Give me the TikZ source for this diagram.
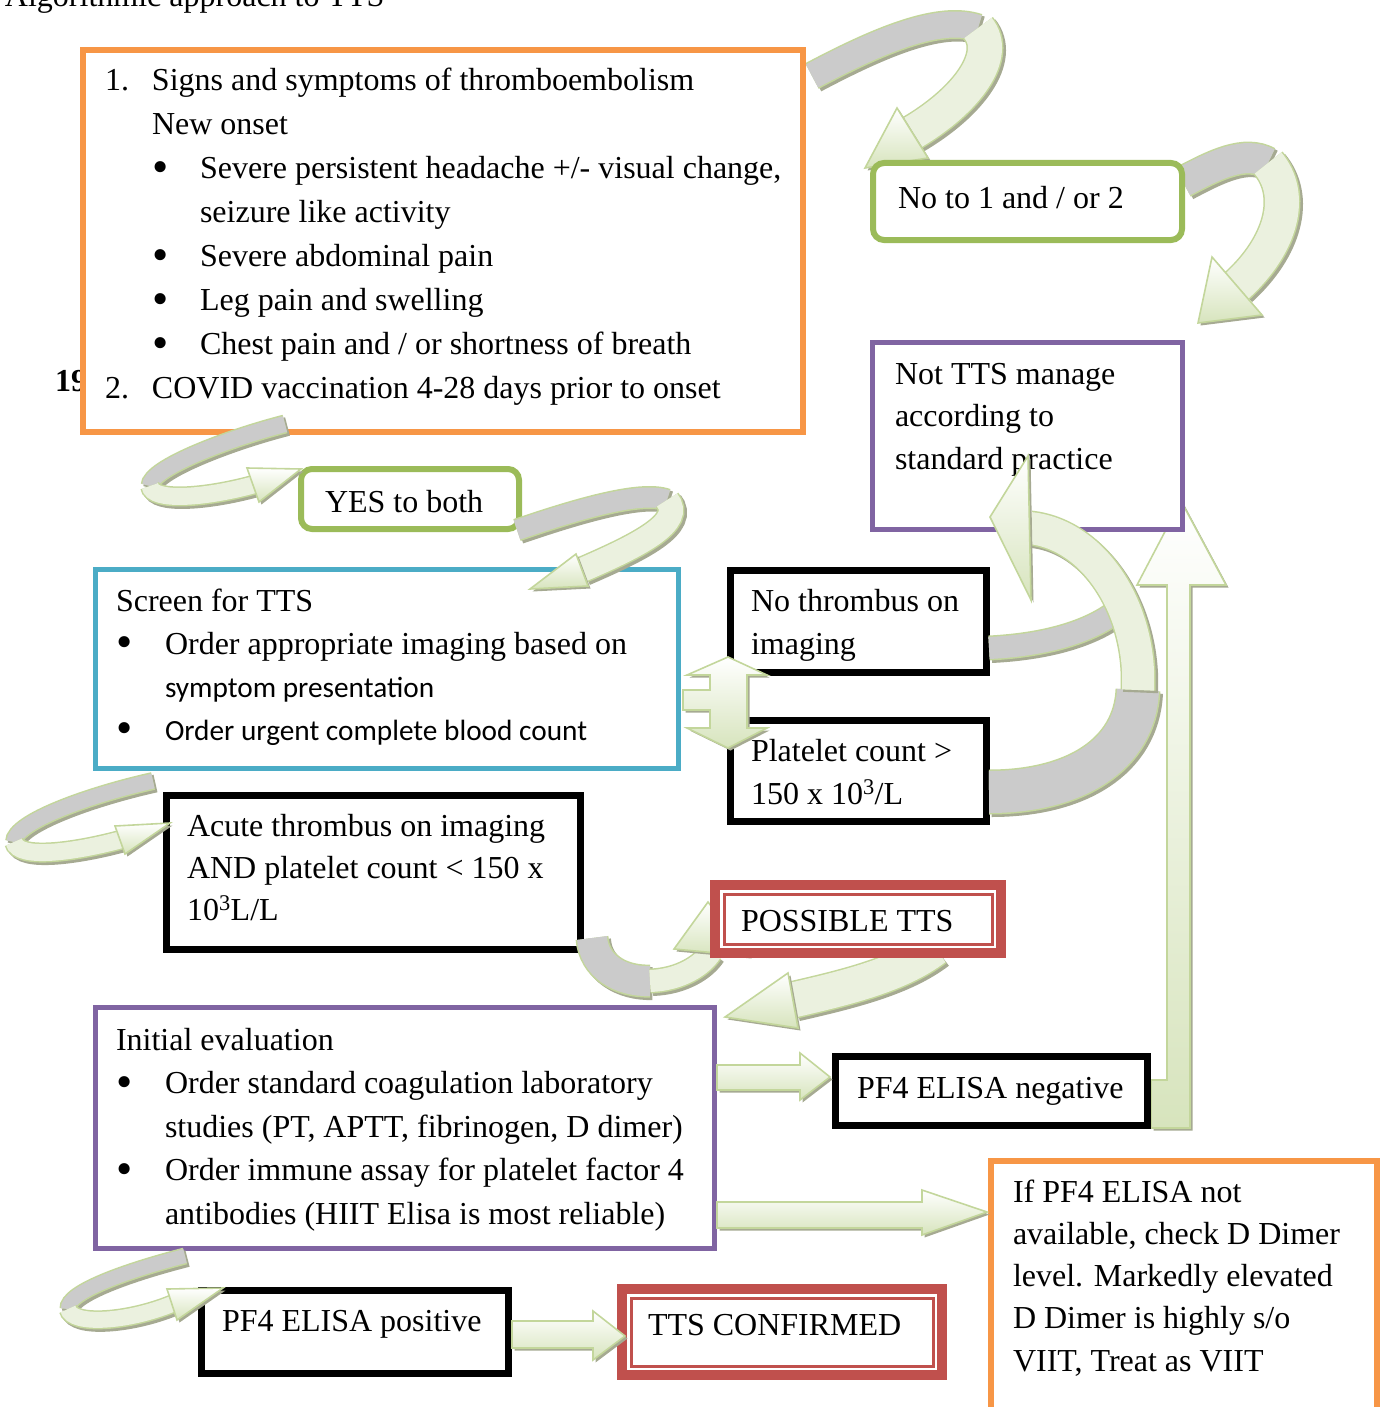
\documentclass[tikz,border=0pt]{standalone}
\usepackage{fontspec}
\setmainfont{Liberation Serif}
\newfontfamily\calib{Carlito}
\usetikzlibrary{calc,positioning}
\definecolor{tsOrange}{HTML}{F79646}
\definecolor{tsGreen}{HTML}{9BBB59}
\definecolor{tsPurple}{HTML}{8064A2}
\definecolor{tsBlue}{HTML}{4BACC6}
\definecolor{tsRed}{HTML}{C0504D}
\definecolor{tsEdge}{HTML}{C3D69B}
\definecolor{tsBack}{HTML}{CBCBCB}
\definecolor{tsFill}{HTML}{D7E4BD}
\definecolor{tsPale}{HTML}{EBF1DF}
\definecolor{tsShade}{HTML}{A6AA92}
\tikzset{
 chart/.style={x=1pt,y=-1pt,line join=miter},
 boxframe/.style={rectangle,fill=white,inner sep=0pt,outer sep=0pt,anchor=north west},
 orangeframe/.style={boxframe,draw=tsOrange,line width=6pt},
 greenframe/.style={boxframe,draw=tsGreen,line width=6pt,rounded corners=11pt},
 purpleframe/.style={boxframe,draw=tsPurple,line width=5pt},
 blueframe/.style={boxframe,draw=tsBlue,line width=5pt},
 blackframe/.style={boxframe,draw=black,line width=7pt},
 redframe/.style={boxframe,draw=tsRed,line width=10pt},
 redinner/.style={draw=tsRed,line width=3pt},
 txt/.style={anchor=base west,inner sep=0pt,outer sep=0pt,font=\fontsize{32}{#1}\selectfont},
 txt/.default=44,
 tsblock/.style={draw=tsEdge,line width=1.6pt,top color=white,bottom color=tsFill},
 castshadow/.style={fill=tsShade,transform canvas={shift={(2.5pt,-2.5pt)}}}
}
\newcommand{\boxlines}[1]{\begin{tabular}[t]{@{}l@{}}#1\end{tabular}}
\newcommand{\bigdot}{\raisebox{-0.11em}{\scalebox{1.45}{\textbullet}}}
\newcommand{\tsbul}{\makebox[48pt][l]{\bigdot}}
\newcommand{\tsbulb}{\makebox[49pt][l]{\bigdot}}
\newcommand{\sans}[1]{{\calib\fontsize{29.3}{43}\selectfont #1}}
\newcommand{\tsribbon}[3]{%
 \draw[tsShade,line width=#2pt+3pt,transform canvas={shift={(2.5pt,-2.5pt)}}] #3;
 \draw[tsEdge,line width=#2pt+3pt] #3;
 \draw[#1,line width=#2pt] #3;}
\newcommand{\tshead}[3]{%
 \fill[castshadow] (#1) -- (#2) -- (#3) -- cycle;
 \draw[tsblock] (#1) -- (#2) -- (#3) -- cycle;}

\begin{document}
\begin{tikzpicture}[chart]
 \useasboundingbox (0,0) rectangle (1384,1407);
 \node[txt] (title) at (5,7) {Algorithmic approach to TTS};
 \node[txt,font=\fontsize{32}{38}\selectfont\bfseries] (secnum) at (55,391) {19};

 \coordinate (a1s) at (812,76); \coordinate (a1t) at (978,28); \coordinate (a1n) at (912,133);
 \coordinate (a1h) at (865,168); \coordinate (a1l) at (897,108); \coordinate (a1r) at (928,158);
 \coordinate (a2s) at (1183,182); \coordinate (a2t) at (1268,163); \coordinate (a2n) at (1237,286);
 \coordinate (a2h) at (1198,323); \coordinate (a2l) at (1212,257); \coordinate (a2r) at (1262,315);
 \coordinate (a3s) at (285,424); \coordinate (a3t) at (150,486); \coordinate (a3n) at (253,485);
 \coordinate (a3h) at (301,469); \coordinate (a3l) at (247,468); \coordinate (a3r) at (259,502);
 \coordinate (a4s) at (517,530); \coordinate (a4t) at (667,500); \coordinate (a4n) at (582,570);
 \coordinate (a4h) at (530,589); \coordinate (a4l) at (576,554); \coordinate (a4r) at (588,586);
 \coordinate (a5s) at (153,781); \coordinate (a5t) at (14,842); \coordinate (a5n) at (120,840);
 \coordinate (a5h) at (170,823); \coordinate (a5l) at (115,826); \coordinate (a5r) at (125,854);
 \coordinate (a7p) at (989,792); \coordinate (a7q) at (989,648); \coordinate (a7j) at (1138,690);
 \coordinate (a7k) at (1125,604); \coordinate (a7n) at (1030,528);
 \coordinate (a7h) at (990,517); \coordinate (a7l) at (1028,456); \coordinate (a7r) at (1031,600);
 \coordinate (a10s) at (592,938); \coordinate (a10t) at (650,981); \coordinate (a10n) at (711,952);
 \coordinate (a10h) at (708,902); \coordinate (a10l) at (674,949); \coordinate (a10r) at (749,956);
 \coordinate (a11s) at (935,948); \coordinate (a11n) at (793,1000);
 \coordinate (a11h) at (725,1017); \coordinate (a11l) at (788,973); \coordinate (a11r) at (798,1028);
 \coordinate (a14s) at (185,1256); \coordinate (a14t) at (68,1309); \coordinate (a14n) at (172,1304);
 \coordinate (a14h) at (223,1288); \coordinate (a14l) at (167,1289); \coordinate (a14r) at (177,1320);

 \fill[castshadow] (1151,1080) -- (1167,1080) -- (1167,585) -- (1137,585) -- (1181,501) -- (1226,585)
   -- (1190,585) -- (1190,1128) -- (1151,1128) -- cycle;
 \draw[tsblock] (1151,1080) -- (1167,1080) -- (1167,585) -- (1137,585) -- (1181,501) -- (1226,585)
   -- (1190,585) -- (1190,1128) -- (1151,1128) -- cycle;
 \tsribbon{tsBack}{26}{(a1s) .. controls (880,40) and (940,15) .. (a1t)}
 \tsribbon{tsPale}{34}{(a1t) .. controls (1000,55) and (968,100) .. (a1n)}
 \tshead{a1h}{a1l}{a1r}
 \tsribbon{tsBack}{30}{(a2s) .. controls (1215,165) and (1245,150) .. (a2t)}
 \tsribbon{tsPale}{34}{(a2t) .. controls (1295,195) and (1282,245) .. (a2n)}
 \tshead{a2h}{a2l}{a2r}

 \node[orangeframe,minimum width=720pt,minimum height=382pt] (signs) at (83,50) {};
 \node[txt] (signsText) at ([shift={(22,41)}]signs.north west) {\boxlines{%
  \makebox[47pt][l]{1.}Signs and symptoms of thromboembolism\\
  \hspace*{47pt}New onset\\
  \hspace*{47pt}\tsbul Severe persistent headache +/- visual change,\\
  \hspace*{95pt}seizure like activity\\
  \hspace*{47pt}\tsbul Severe abdominal pain\\
  \hspace*{47pt}\tsbul Leg pain and swelling\\
  \hspace*{47pt}\tsbul Chest pain and / or shortness of breath\\
  \makebox[47pt][l]{2.}COVID vaccination 4-28 days prior to onset}};
 \node[greenframe,minimum width=309pt,minimum height=77pt] (noBox) at (873,163) {};
 \node[txt] (noText) at ([shift={(25,45)}]noBox.north west) {No to 1 and / or 2};
 \node[purpleframe,minimum width=310pt,minimum height=187pt] (notTTS) at (872.5,342.5) {};
 \node[txt=42.5] (notText) at ([shift={(22.5,41.5)}]notTTS.north west)
  {\boxlines{Not TTS manage\\according to\\standard practice}};
 \node[greenframe,minimum width=218pt,minimum height=60pt] (yes) at (301,469) {};
 \node[txt] (yesText) at ([shift={(24,43)}]yes.north west) {YES to both};
 \node[blueframe,minimum width=583pt,minimum height=199pt] (screen) at (95.5,569.5) {};
 \node[txt=43] (screenText) at ([shift={(20.5,41.5)}]screen.north west) {\boxlines{%
  Screen for TTS\\
  \tsbulb Order appropriate imaging based on\\
  \hspace*{49pt}\sans{symptom presentation}\\
  \tsbulb\sans{Order urgent complete blood count}}};
 \node[blackframe,minimum width=256pt,minimum height=102pt] (noThr) at (730.5,570.5) {};
 \node[txt=43] (noThrText) at ([shift={(20.5,40.5)}]noThr.north west)
  {\boxlines{No thrombus on\\imaging}};
 \node[blackframe,minimum width=256pt,minimum height=101pt] (plt) at (730.5,720.5) {};
 \node[txt=43] (pltText) at ([shift={(20.5,40.5)}]plt.north west)
  {\boxlines{Platelet count >\\150 x 10\textsuperscript{3}/L}};
 \node[blackframe,minimum width=414pt,minimum height=154pt] (acute) at (166.5,795.5) {};
 \node[txt=42] (acuteText) at ([shift={(20.5,40.5)}]acute.north west)
  {\boxlines{Acute thrombus on imaging\\AND platelet count < 150 x\\10\textsuperscript{3}L/L}};
 \node[purpleframe,minimum width=619pt,minimum height=241pt] (initial) at (95.5,1007.5) {};
 \node[txt=43.5] (initialText) at ([shift={(20.5,42.5)}]initial.north west) {\boxlines{%
  Initial evaluation\\
  \tsbulb Order standard coagulation laboratory\\
  \hspace*{49pt}studies (PT, APTT, fibrinogen, D dimer)\\
  \tsbulb Order immune assay for platelet factor 4\\
  \hspace*{49pt}antibodies (HIIT Elisa is most reliable)}};
 \node[blackframe,minimum width=312pt,minimum height=69pt] (neg) at (835.5,1056.5) {};
 \node[txt] (negText) at ([shift={(21.5,41.5)}]neg.north west) {PF4 ELISA negative};
 \node[orangeframe,minimum width=386pt,minimum height=250pt] (ifpf4) at (991,1161) {};
 \node[txt=42.25] (ifpf4Text) at ([shift={(22,41)}]ifpf4.north west) {\boxlines{%
  If PF4 ELISA not\\available, check D Dimer\\level. Markedly elevated\\
  D Dimer is highly s/o\\VIIT, Treat as VIIT}};
 \node[blackframe,minimum width=307pt,minimum height=83pt] (pos) at (201.5,1290.5) {};
 \node[txt] (posText) at ([shift={(20.5,40.5)}]pos.north west) {PF4 ELISA positive};
 \node[redframe,minimum width=320pt,minimum height=86pt] (confirmed) at (622,1289) {};
 \draw[redinner] ([shift={(9,9)}]confirmed.north west) rectangle ([shift={(-9,-9)}]confirmed.south east);
 \node[txt] (confirmedText) at ([shift={(26,46)}]confirmed.north west) {TTS CONFIRMED};

 \tsribbon{tsBack}{30}{(a10s) .. controls (594,966) and (620,982) .. (a10t)}
 \tsribbon{tsPale}{22}{(a10t) .. controls (680,980) and (702,966) .. (a10n)}
 \tshead{a10h}{a10l}{a10r}
 \tsribbon{tsPale}{35}{(a11s) .. controls (900,975) and (845,988) .. (a11n)}
 \tshead{a11h}{a11l}{a11r}
 \node[redframe,minimum width=286pt,minimum height=68pt] (possible) at (715,885) {};
 \draw[redinner] ([shift={(9,9)}]possible.north west) rectangle ([shift={(-9,-9)}]possible.south east);
 \node[txt] (possibleText) at ([shift={(26,46)}]possible.north west) {POSSIBLE TTS};

 \tsribbon{tsBack}{16}{(a3s) .. controls (230,438) and (150,468) .. (a3t)}
 \tsribbon{tsPale}{17}{(a3t) .. controls (152,502) and (205,498) .. (a3n)}
 \tshead{a3h}{a3l}{a3r}
 \tsribbon{tsBack}{20}{(a4s) .. controls (570,512) and (640,490) .. (a4t)}
 \tsribbon{tsPale}{24}{(a4t) .. controls (685,522) and (640,545) .. (a4n)}
 \tshead{a4h}{a4l}{a4r}
 \tsribbon{tsBack}{15}{(a5s) .. controls (90,795) and (14,822) .. (a5t)}
 \tsribbon{tsPale}{17}{(a5t) .. controls (18,860) and (75,852) .. (a5n)}
 \tshead{a5h}{a5l}{a5r}
 \fill[castshadow] (728,657) -- (767,675) -- (747,675) -- (747,728) -- (767,728) -- (728,748) -- (687,728)
   -- (710,728) -- (710,710) -- (683,710) -- (683,690) -- (710,690) -- (710,675) -- (687,675) -- cycle;
 \draw[tsblock] (728,657) -- (767,675) -- (747,675) -- (747,728) -- (767,728) -- (728,748) -- (687,728)
   -- (710,728) -- (710,710) -- (683,710) -- (683,690) -- (710,690) -- (710,675) -- (687,675) -- cycle;
 \tsribbon{tsBack}{42}{(a7p) .. controls (1075,792) and (1135,755) .. (a7j)}
 \tsribbon{tsBack}{22}{(a7q) .. controls (1050,645) and (1098,630) .. (a7k)}
 \tsribbon{tsPale}{32}{(a7j) .. controls (1142,610) and (1095,535) .. (a7n)}
 \tshead{a7h}{a7l}{a7r}
 \foreach \ya/\yb/\yc/\yd/\ye/\xa/\xb in {1053/1065/1077/1090/1100/800/830,1190/1202/1212/1228/1235/922/987} {
  \fill[castshadow] (717,\yb) -- (\xa,\yb) -- (\xa,\ya) -- (\xb,\yc) -- (\xa,\ye) -- (\xa,\yd) -- (717,\yd) -- cycle;
  \draw[tsblock] (717,\yb) -- (\xa,\yb) -- (\xa,\ya) -- (\xb,\yc) -- (\xa,\ye) -- (\xa,\yd) -- (717,\yd) -- cycle;
 }
 \tsribbon{tsBack}{14}{(a14s) .. controls (130,1270) and (66,1292) .. (a14t)}
 \tsribbon{tsPale}{16}{(a14t) .. controls (72,1326) and (128,1322) .. (a14n)}
 \tshead{a14h}{a14l}{a14r}
 \fill[castshadow] (512,1321) -- (593,1321) -- (593,1311) -- (625,1336) -- (593,1360) -- (593,1348) -- (512,1348) -- cycle;
 \draw[tsblock] (512,1321) -- (593,1321) -- (593,1311) -- (625,1336) -- (593,1360) -- (593,1348) -- (512,1348) -- cycle;
\end{tikzpicture}
\end{document}
